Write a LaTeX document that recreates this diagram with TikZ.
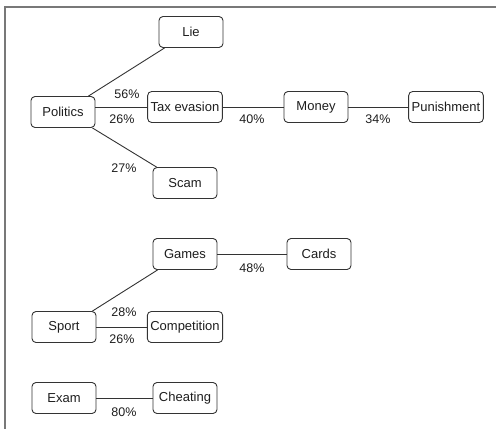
\documentclass[tikz,border=0pt]{standalone}
\usepackage{fontspec}
\setmainfont{Liberation Sans}
\usetikzlibrary{positioning}
\definecolor{wdLine}{RGB}{51,51,51}
\definecolor{wdFrame}{RGB}{120,120,120}
\definecolor{wdText}{RGB}{30,30,30}
\tikzset{
  word/.style={draw=wdLine, line width=0.9pt, rounded corners=4pt, fill=white,
    minimum width=64pt, minimum height=31pt, inner xsep=3pt, text=wdText,
    font=\fontsize{13}{15}\selectfont},
  link/.style={draw=wdLine, line width=0.9pt},
  pct/.style={text=wdText, inner sep=0pt, font=\fontsize{12.5}{14}\selectfont}
}
\begin{document}
\begin{tikzpicture}[x=1pt, y=-1pt]
\useasboundingbox (0,0) rectangle (496,429);
% frame
\draw[wdFrame, line width=1.4pt] (496,7) -- (5,7) -- (5,429);

% words
\foreach \n/\x/\y/\t in {lie/191/32/Lie, pol/63/112/Politics, tax/185/107/{Tax evasion},
                         scam/185/183/Scam, money/316/107/Money, pun/446/107/Punishment,
                         games/185/254/Games, cards/319/254/Cards,
                         sport/64/327/Sport, comp/185/327/Competition,
                         exam/64/398/Exam, cheat/185/398/Cheating}
  \node[word] (\n) at (\x,\y) {\t};

% links
\draw[link] ([xshift=-7pt]pol.north east) -- ([xshift=6pt]lie.south west);
\draw[link] (tax.west -| pol.east) -- (tax.west);
\draw[link] ([xshift=-3pt]pol.south east) -- ([xshift=4pt]scam.north west);
\draw[link] (tax) -- (money);
\draw[link] (money) -- (pun);
\draw[link] ([xshift=-4pt]sport.north east) -- ([xshift=5pt]games.south west);
\draw[link] (sport) -- (comp);
\draw[link] (games) -- (cards);
\draw[link] (exam) -- (cheat);

% percentages
\node[pct] (p56) at (127,94) {56\%};
\node[pct] (p26a) at (122,119) {26\%};
\node[pct] (p27) at (124,168) {27\%};
\node[pct] (p40) at (252,119) {40\%};
\node[pct] (p34) at (378,119) {34\%};
\node[pct] (p48) at (252,268) {48\%};
\node[pct] (p28) at (124,312) {28\%};
\node[pct] (p26b) at (122,339) {26\%};
\node[pct] (p80) at (124,412) {80\%};
\end{tikzpicture}
\end{document}
